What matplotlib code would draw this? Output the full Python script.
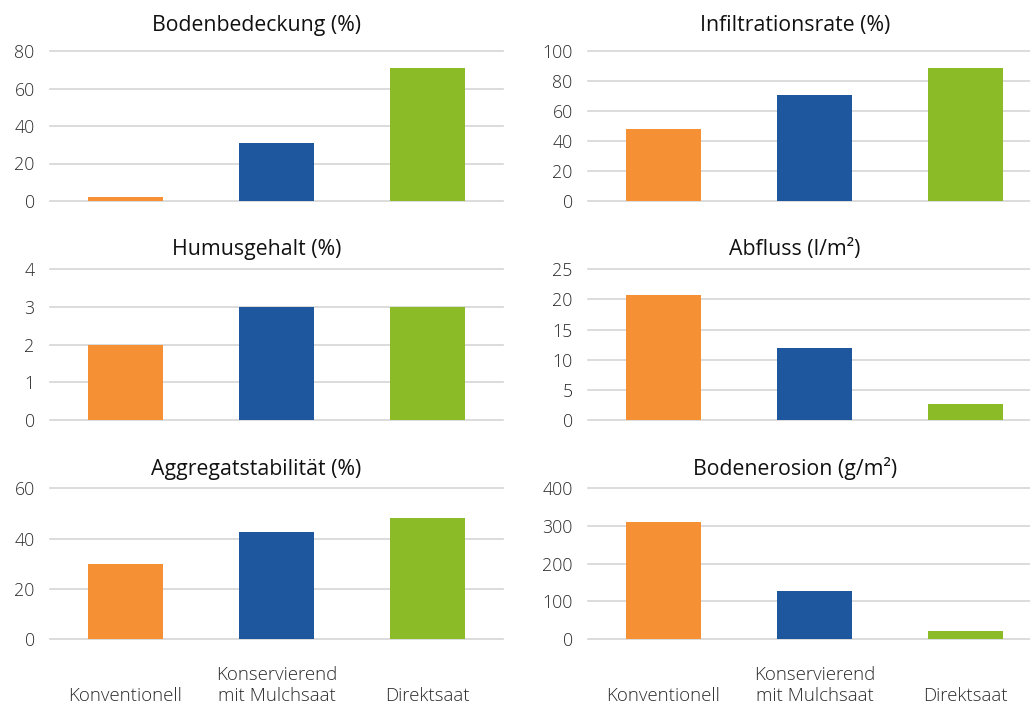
import matplotlib
matplotlib.use("Agg")
import matplotlib.pyplot as plt
from matplotlib.transforms import blended_transform_factory

# Tillage systems compared in every panel
categories = ["Konventionell", "Konservierend\nmit Mulchsaat", "Direktsaat"]
bar_colors = ["#F59134", "#1F579E", "#8BBC27"]

# Panel values (Konventionell, Konservierend, Direktsaat)
bodenbedeckung = [2, 31, 71]
infiltration = [48, 71, 89]
humus = [2, 3, 3]
abfluss = [20.7, 12, 2.7]
aggregat = [30, 42.6, 48]
erosion = [310, 127, 21]

titles = ["Bodenbedeckung (%)", "Infiltrationsrate (%)",
          "Humusgehalt (%)", "Abfluss (l/m²)",
          "Aggregatstabilität (%)", "Bodenerosion (g/m²)"]
yticks = [[0, 20, 40, 60, 80], [0, 20, 40, 60, 80, 100],
          [0, 1, 2, 3, 4], [0, 5, 10, 15, 20, 25],
          [0, 20, 40, 60], [0, 100, 200, 300, 400]]
series = [bodenbedeckung, infiltration, humus, abfluss, aggregat, erosion]

W, H = 1030, 704
fig = plt.figure(figsize=(W / 100, H / 100), dpi=100)
fig.patch.set_facecolor("white")

col_x = [50, 588]            # left edge of plot area (px)
plot_w = 453                 # plot width (px)
row_top = [51, 269.3, 488.3]  # top gridline (px)
row_bot = [201, 420, 639]     # zero line (px)
title_x = [256.5, 795]
title_base = [30.5, 255.3, 475.3]

GRID = "#d6d6d6"
TICKC = "#2b2b2b"

for i, (vals, title, ticks) in enumerate(zip(series, titles, yticks)):
    r, c = divmod(i, 2)
    left = col_x[c] / W
    bottom = 1 - row_bot[r] / H
    height = (row_bot[r] - row_top[r]) / H
    ax = fig.add_axes([left, bottom, plot_w / W, height])
    x = range(len(vals))
    ax.bar(x, vals, width=0.5, color=bar_colors, zorder=3)
    ax.set_xlim(-0.5, 2.5)
    ax.set_ylim(ticks[0], ticks[-1])
    ax.set_yticks(ticks)
    ax.set_yticklabels([str(t) for t in ticks], fontfamily="Open Sans",
                       fontweight="light", fontsize=12.8, color=TICKC)
    ax.tick_params(axis="y", length=0, pad=11)
    ax.set_xticks([])
    for s in ax.spines.values():
        s.set_visible(False)
    ax.grid(axis="y", color=GRID, linewidth=1.2, zorder=0)
    for gl in ax.get_ygridlines():
        gl.set_clip_on(False)
    ax.set_axisbelow(True)

    fig.text(title_x[c] / W, 1 - title_base[r] / H, title,
             fontfamily="Open Sans", fontsize=15.3, color="#111111",
             ha="center", va="baseline")

    if r == 2:
        trans = blended_transform_factory(ax.transData, fig.transFigure)
        for k, lab in enumerate(categories):
            lines = lab.split("\n")
            for j, line in enumerate(reversed(lines)):
                ybase = 701 - 20.5 * j
                ax.text(k, 1 - ybase / H, line, transform=trans,
                        fontfamily="Open Sans", fontweight="light",
                        fontsize=13.4, color=TICKC, ha="center",
                        va="baseline")

fig.savefig("out.png", dpi=100, facecolor="white")
